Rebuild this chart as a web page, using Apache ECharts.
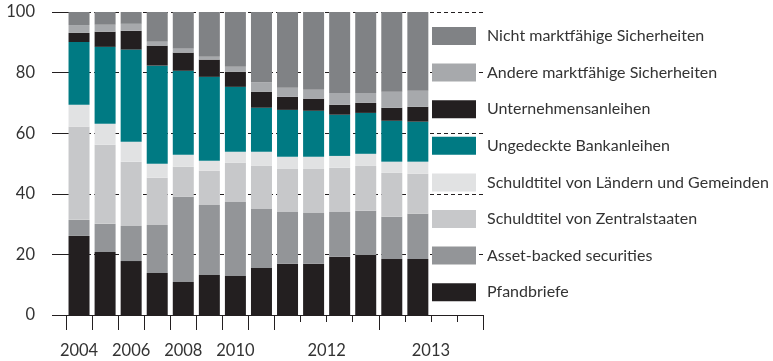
<!DOCTYPE html>
<html>
<head>
<meta charset="utf-8">
<script src="https://cdn.jsdelivr.net/npm/echarts@6/dist/echarts.min.js"></script>
<style>
  html, body { margin: 0; padding: 0; background: #fff; }
  #chart { width: 773px; height: 361px; }
</style>
</head>
<body>
<div id="chart"></div>
<script>
// Reporting periods: annual to 2011, quarterly afterwards
const periods = ['2004', '2005', '2006', '2007', '2008', '2009', '2010', '2011',
  '2012 Q1', '2012 Q2', '2012 Q3', '2012 Q4',
  '2013 Q1', '2013 Q2', '2013 Q3', '2013 Q4'];

// Years that carry a label under the axis
const labelledYears = ['2004', '2006', '2008', '2010', '2012', '2013'];

// Shares of collateral (in %), one array per category
const pfandbriefe      = [26.1, 20.8, 17.8, 13.9, 10.9, 13.2, 12.9, 15.5, 16.9, 16.9, 19.2, 19.8, 18.5, 18.5];
const assetBacked      = [5.3, 9.3, 11.6, 15.8, 28.1, 23.1, 24.4, 19.5, 17.1, 16.8, 14.8, 14.6, 13.9, 14.9];
const zentralstaaten   = [30.7, 26.1, 21.2, 15.6, 9.9, 11.3, 12.9, 14.2, 14.2, 14.5, 14.6, 14.8, 14.5, 13.2];
const laender          = [7.3, 6.9, 6.6, 4.6, 4.0, 3.3, 3.7, 4.7, 4.0, 4.0, 3.9, 4.0, 3.7, 4.0];
const bankanleihen     = [20.7, 25.4, 30.4, 32.4, 27.7, 27.7, 21.4, 14.5, 15.5, 15.2, 13.6, 13.5, 13.5, 13.2];
const unternehmen      = [3.0, 5.0, 6.2, 6.6, 6.0, 5.7, 5.0, 5.3, 4.3, 4.0, 3.3, 3.3, 4.3, 4.9];
const andereMarktf     = [2.6, 2.3, 2.3, 1.3, 1.3, 0.9, 1.6, 3.0, 3.0, 2.9, 3.9, 3.3, 5.3, 5.3];
const nichtMarktf      = [4.3, 4.2, 3.9, 9.8, 12.1, 14.8, 18.1, 23.3, 25.0, 25.7, 26.7, 26.7, 26.3, 26.0];

const yTicks = [0, 20, 40, 60, 80, 100];

const seriesDefs = [
  { name: 'Pfandbriefe', data: pfandbriefe, color: '#231f20' },
  { name: 'Asset-backed securities', data: assetBacked, color: '#939598' },
  { name: 'Schuldtitel von Zentralstaaten', data: zentralstaaten, color: '#c7c8ca' },
  { name: 'Schuldtitel von Ländern und Gemeinden', data: laender, color: '#e1e2e3' },
  { name: 'Ungedeckte Bankanleihen', data: bankanleihen, color: '#007a83' },
  { name: 'Unternehmensanleihen', data: unternehmen, color: '#231f20' },
  { name: 'Andere marktfähige Sicherheiten', data: andereMarktf, color: '#a7a9ac' },
  { name: 'Nicht marktfähige Sicherheiten', data: nichtMarktf, color: '#808285' }
];

// Derive tick and label positions (in category units) from the period list
const yearOf = p => p.slice(0, 4);
const majorTicks = [0];
const minorTicks = [];
for (let i = 1; i < periods.length; i++) {
  (yearOf(periods[i]) !== yearOf(periods[i - 1]) ? majorTicks : minorTicks).push(i);
}
majorTicks.push(periods.length);

const labelAt = {};
labelledYears.forEach(y => {
  const idx = periods.map((p, i) => yearOf(p) === y ? i : -1).filter(i => i >= 0);
  const centre = (idx[0] + idx[idx.length - 1] + 1) / 2;
  labelAt[centre] = y;
});
const labelPositions = Object.keys(labelAt).map(Number);

const ink = '#231f20';
const textColor = '#333333';
const font = 'Lato';

const chart = echarts.init(document.getElementById('chart'), null, { renderer: 'canvas' });

chart.setOption({
  animation: false,
  backgroundColor: '#ffffff',
  grid: { left: 66, right: 290, top: 12, bottom: 46, containLabel: false },
  legend: {
    orient: 'vertical',
    left: 432,
    top: 27,
    padding: 0,
    itemWidth: 44,
    itemHeight: 18,
    itemGap: 18.6,
    icon: 'rect',
    data: seriesDefs.map(s => s.name).reverse(),
    textStyle: { fontFamily: font, fontSize: 16, lineHeight: 18, color: textColor, padding: [0, 0, 0, 6] },
    selectedMode: false
  },
  xAxis: [
    {
      type: 'category',
      data: periods,
      axisLine: { show: true, lineStyle: { color: ink, width: 1 } },
      axisTick: { show: false },
      axisLabel: { show: false },
      splitLine: { show: false }
    },
    {
      type: 'value',
      min: 0,
      max: periods.length,
      position: 'bottom',
      axisLine: { show: false },
      splitLine: { show: false },
      axisTick: { show: true, customValues: majorTicks, length: 15, lineStyle: { color: ink, width: 1 } },
      axisLabel: {
        show: true,
        customValues: labelPositions,
        formatter: v => labelAt[v] || '',
        margin: 27,
        fontFamily: font,
        fontSize: 16.5,
        color: textColor
      }
    },
    {
      type: 'value',
      min: 0,
      max: periods.length,
      position: 'bottom',
      axisLine: { show: false },
      splitLine: { show: false },
      axisTick: { show: true, customValues: minorTicks, length: 7, lineStyle: { color: ink, width: 1 } },
      axisLabel: { show: false }
    }
  ],
  yAxis: {
    type: 'value',
    min: yTicks[0],
    max: yTicks[yTicks.length - 1],
    interval: yTicks[1] - yTicks[0],
    axisLine: { show: false },
    axisTick: { show: true, length: 14, lineStyle: { color: ink, width: 1 } },
    axisLabel: { margin: 31, fontFamily: font, fontSize: 16.5, color: textColor },
    splitLine: { show: true, lineStyle: { color: ink, width: 1, type: [4, 3] } }
  },
  series: seriesDefs.map(s => ({
    name: s.name,
    type: 'bar',
    stack: 'total',
    xAxisIndex: 0,
    yAxisIndex: 0,
    barWidth: 21,
    data: s.data,
    itemStyle: { color: s.color },
    emphasis: { disabled: true }
  }))
});
</script>
</body>
</html>
